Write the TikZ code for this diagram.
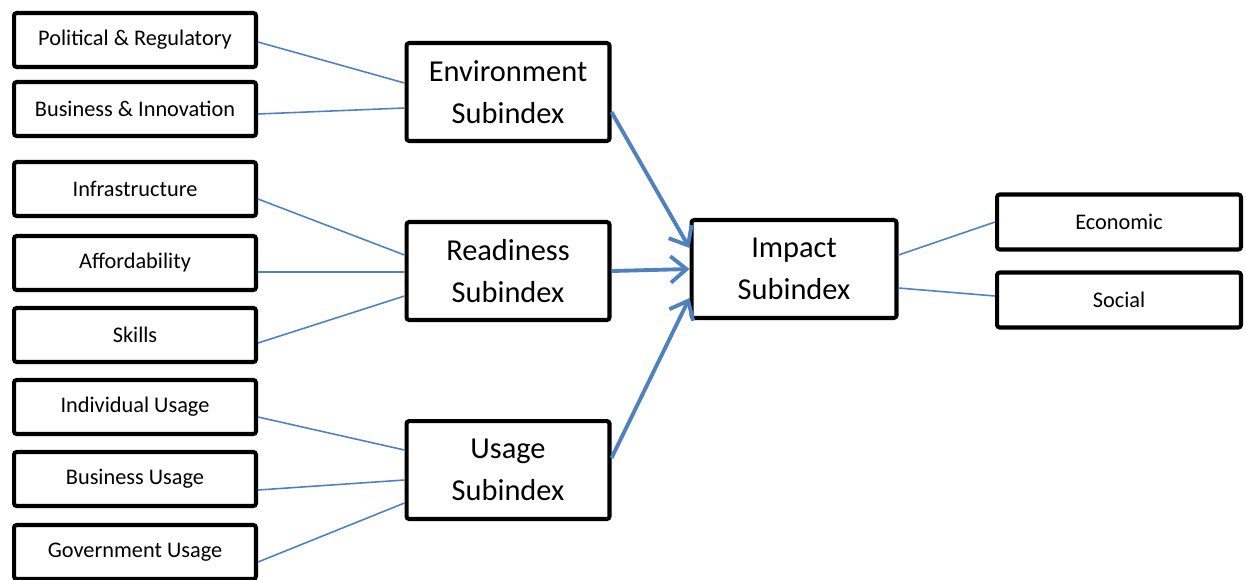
\documentclass[tikz,border=0pt]{standalone}
\usepackage{fontspec}
\setmainfont{Carlito}
\usetikzlibrary{arrows.meta,calc}

\definecolor{linkblue}{RGB}{79,129,189}

\begin{document}
\begin{tikzpicture}[x=0.02cm, y=-0.02cm,
    leafbox/.style={draw, line width=2.3pt, rounded corners=1.5pt, inner sep=0pt,
        minimum width=4.84cm, minimum height=1.08cm, font=\fontsize{12.7}{15}\selectfont},
    subbox/.style={draw, line width=2.3pt, rounded corners=1.5pt, inner sep=0pt,
        minimum width=4.06cm, minimum height=1.96cm, align=center,
        font=\fontsize{17.3}{24}\selectfont},
    thinlink/.style={linkblue, line width=0.9pt},
    thicklink/.style={linkblue, line width=2.2pt, -{Straight Barb[length=9pt, width=15pt, line width=2.2pt]}}]

    \useasboundingbox (0,0) rectangle (1246,579);

    % --- Left: indicator boxes ---
    \node[leafbox] (pol)    at (135,40)  {Political \& Regulatory};
    \node[leafbox] (bizinn) at (135,109) {Business \& Innovation};
    \node[leafbox] (infra)  at (135,189) {Infrastructure};
    \node[leafbox] (afford) at (135,263) {Affordability};
    \node[leafbox] (skills) at (135,335) {Skills};
    \node[leafbox] (indiv)  at (135,407) {Individual Usage};
    \node[leafbox] (bizuse) at (135,479) {Business Usage};
    \node[leafbox] (gov)    at (135,552) {Government Usage};

    % --- Middle: subindexes ---
    \node[subbox] (env)   at (508,92)  {Environment\\Subindex};
    \node[subbox] (ready) at (508,271) {Readiness\\Subindex};
    \node[subbox] (usage) at (508,470) {Usage\\Subindex};

    % --- Right: impact ---
    \node[subbox, minimum width=4.1cm] (impact) at (794,269) {Impact\\Subindex};
    \node[leafbox, minimum width=4.88cm, minimum height=1.1cm] (econ)   at (1119,222) {Economic};
    \node[leafbox, minimum width=4.88cm, minimum height=1.1cm] (social) at (1119,300) {Social};

    % Thin links (indicators to subindex)
    \draw[thinlink] ($(pol.east)+(0,2)$)    -- ($(env.west)+(0,-9)$);
    \draw[thinlink] ($(bizinn.east)+(0,5)$) -- ($(env.west)+(0,16)$);
    \draw[thinlink] ($(infra.east)+(0,10)$) -- ($(ready.west)+(0,-16)$);
    \draw[thinlink] ($(afford.east)+(0,9)$) -- ($(ready.west)+(0,1)$);
    \draw[thinlink] ($(skills.east)+(0,8)$) -- ($(ready.west)+(0,25)$);
    \draw[thinlink] ($(indiv.east)+(0,10)$) -- ($(usage.west)+(0,-20)$);
    \draw[thinlink] ($(bizuse.east)+(0,11)$) -- ($(usage.west)+(0,10)$);
    \draw[thinlink] ($(gov.east)+(0,10)$)   -- ($(usage.west)+(0,33)$);

    % Thick arrows (subindexes to impact)
    \draw[thicklink] ($(env.east)+(0,20)$)    -- ($(impact.west)+(0,-21)$);
    \draw[thicklink] (ready.east)             -- (impact.west);
    \draw[thicklink] ($(usage.east)+(0,-12)$) -- ($(impact.west)+(0,29)$);

    % Impact outcomes
    \draw[thinlink] ($(impact.east)+(0,-14)$) -- (econ.west);
    \draw[thinlink] ($(impact.east)+(0,19)$)  -- ($(social.west)+(0,-4)$);
\end{tikzpicture}
\end{document}
